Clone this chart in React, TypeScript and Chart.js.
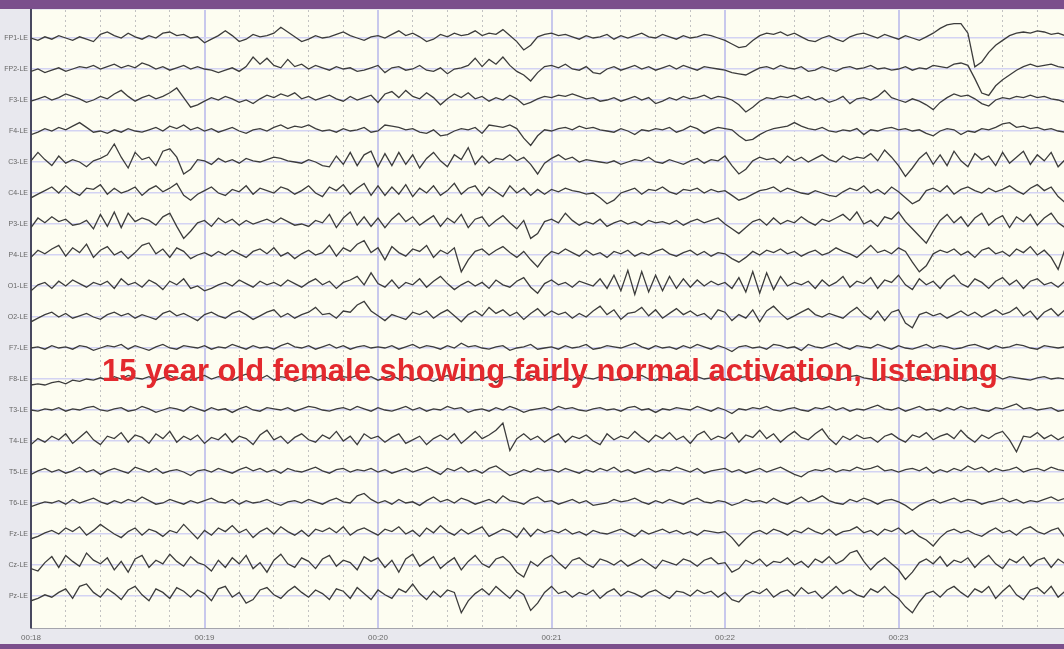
import React, { useEffect, useRef } from "react";
import { Chart, registerables } from "chart.js";

Chart.register(...registerables);

// ---------- data ----------
const CHANNEL_LABELS = [
  "FP1-LE", "FP2-LE", "F3-LE", "F4-LE", "C3-LE", "C4-LE", "P3-LE", "P4-LE", "O1-LE", "O2-LE",
  "F7-LE", "F8-LE", "T3-LE", "T4-LE", "T5-LE", "T6-LE", "Fz-LE", "Cz-LE", "Pz-LE",
];
const TIME_SECONDS = [18, 19, 20, 21, 22, 23];
const TIME_LABELS = ["00:18", "00:19", "00:20", "00:21", "00:22", "00:23"];
const START_SECOND = 18;
const SAMPLE_STEP = 0.04; // seconds between samples
const ANNOTATION = "15 year old female showing fairly normal activation, listening";

const FP1 = [
  0,-2,1,-1,2, 0,-2,1,-1,-3, 3,5,2,0,4, 1,-1,2,0,4, 5,2,3,0,1,
  -4,-1,2,6,2, -3,-1,3,1,2, 4,9,5,1,-3, -1,2,0,1,3, 5,2,0,-2,1,
  2,0,3,6,2, 4,1,-3,-1,3, 1,4,2,3,6, 2,4,3,7,2, -3,-10,-6,1,3,
  4,2,3,1,-1, 2,0,1,3,-1, 2,0,2,4,1, 0,3,1,-1,2, 0,1,3,2,0,
  -2,-5,-8,-7,-2, 2,4,3,5,2, 4,1,-2,-3,0, 2,-1,-3,1,3, 4,2,0,3,1,
  -1,2,0,-2,1, 4,8,11,12,12, 4,-24,-20,-12,-6, -2,2,4,5,4, 6,5,3,4,2,
];
const FP2 = [
  -2,0,-3,-1,1, -2,0,2,1,3, 0,2,4,1,3, 1,5,3,0,2, -1,1,3,0,2,
  0,-1,-3,-1,1, -2,2,10,4,9, 3,1,8,2,4, 0,3,1,-1,2, 0,1,-2,-1,1,
  3,-3,1,2,-1, 0,3,-1,-2,1, -4,0,1,3,9, 2,8,4,10,3, -2,-5,-10,-3,2,
  3,1,4,0,-1, 2,-3,-4,0,2, -1,1,3,0,2, -1,1,3,0,3, 1,-1,2,1,0,
  -1,-3,-4,-5,-2, 1,2,0,3,1, 0,2,-2,-1,2, 0,-2,1,2,0, 1,3,0,1,-1,
  0,2,-1,1,0, 3,2,1,4,5, 3,-8,-20,-22,-14, -9,-5,-1,2,4, 2,3,4,2,1,
];
const F3 = [
  -1,1,3,0,2, 5,3,1,-2,0, 3,1,5,8,3, -1,2,4,1,3, 6,10,2,-6,-4,
  -1,2,0,3,1, -2,0,-3,1,4, 2,5,3,6,1, 3,0,2,4,1, -1,3,0,2,4,
  -2,5,7,2,8, 3,1,6,2,-4, 1,5,2,6,1, 3,-1,2,0,4, 1,-4,-2,1,3,
  2,4,3,5,3, 1,2,-1,0,2, -1,1,3,0,2, -3,-1,2,0,3, 1,2,4,1,3,
  2,0,-4,-10,-6, -1,2,1,3,2, 4,1,3,0,2, -2,0,3,-3,1, 2,0,3,8,2,
  0,-2,1,-1,-4, -8,-2,2,5,3, 4,1,-3,-5,0, 2,1,3,2,4, 2,3,1,0,-2,
];
const F4 = [
  -3,-1,2,0,3, 1,4,7,3,-1, 0,-2,1,-1,2, 0,-1,1,3,0, 4,2,5,1,3,
  0,2,-1,1,3, 0,-2,1,2,0, 3,5,2,4,3, 5,2,0,1,-1, 2,0,1,3,-1,
  0,5,4,3,1, 2,-1,-2,1,-4, -3,0,2,1,3, -2,5,4,3,5, 2,-6,-12,-4,1,
  0,2,3,1,4, 2,3,1,0,-1, 2,0,-3,1,0, 2,1,3,-1,1, 4,2,-2,1,3,
  2,1,-4,-8,-7, -3,0,2,3,4, 7,4,2,1,3, 0,-1,1,0,2, -3,1,0,2,3,
  1,2,0,1,-2, -4,0,2,1,-3, 0,-1,2,1,3, 6,7,3,4,2, 3,1,2,0,-1,
];
const C3 = [
  1,8,2,-3,5, -1,2,0,-4,1, 3,6,15,4,-5, 8,2,4,-3,9, 11,4,-10,-6,2,
  1,-2,3,0,2, -1,3,1,0,2, 4,3,1,0,-1, 2,0,-3,-4,5, -2,8,-3,6,9,
  -4,7,-3,8,-2, 6,-5,3,8,1, -4,6,2,12,-2, 5,-1,3,2,6, 1,4,-2,-10,-1,
  3,6,2,4,0, 2,1,0,-1,1, -2,0,2,1,4, 0,-1,2,0,-2, 1,3,-1,2,1,
  5,-3,-10,-6,1, 4,2,3,-1,5, 1,4,0,3,6, 2,0,5,2,4, 3,7,1,10,4,
  -3,-12,-5,3,8, -2,6,-3,9,1, -4,7,2,5,-3, 8,-1,4,9,-2, 6,1,8,-4,2,
];
const C4 = [
  -4,-1,2,5,0, 6,1,-2,4,3, 7,-1,4,0,2, 5,-2,3,6,1, 4,8,-2,-6,-1,
  2,5,0,-2,3, 1,6,-1,4,2, 0,5,3,-1,2, 6,0,-3,5,2, 7,-1,4,8,-2,
  6,-2,5,-1,7, -3,4,0,6,-2, 2,8,-1,4,6, -2,5,1,-3,6, 0,4,-2,3,-1,
  3,1,4,2,1, -1,0,-4,-9,-6, 0,2,4,-1,3, 2,5,1,-1,3, 2,4,0,3,1,
  2,-2,-6,-4,-1, 2,3,5,1,4, 2,0,-1,2,0, -2,-3,1,4,2, 6,0,3,-1,5,
  1,-4,-9,-6,2, 4,1,6,-1,3, 5,2,0,4,1, 3,6,2,-1,4, 7,2,5,-3,-8,
];
const P3 = [
  -3,5,1,6,2, 4,-1,0,3,-4, 8,-2,10,-3,9, 2,5,3,-1,6, 9,-2,-12,-6,1,
  3,-2,5,1,4, -1,3,0,2,4, 1,5,2,-1,0, -2,3,1,8,-3, 5,10,-1,6,-2,
  5,-3,4,9,2, 6,-1,3,7,-2, 5,1,8,-3,4, 6,-2,3,7,1, -4,3,-12,-8,2,
  4,1,9,3,-1, 2,0,4,-2,1, 3,0,2,-1,3, 1,2,0,3,-1, 2,4,1,3,5,
  0,-4,-8,-3,2, 4,-1,5,0,3, 1,6,2,-1,4, 2,5,8,3,10, 0,3,-2,6,4,
  10,2,-4,-10,-16, -6,3,8,1,6, -2,5,9,-1,4, 7,-3,6,2,8, -1,5,9,1,-3,
];
const P4 = [
  -2,4,1,5,8, -1,6,2,9,-2, 4,7,0,3,-3, 2,8,10,1,5, -2,6,3,-3,0,
  2,-1,3,0,4, 1,-2,3,5,1, 6,-1,2,-3,1, 4,0,2,8,-1, 6,3,9,12,2,
  6,-4,7,2,-1, 5,3,8,-2,4, 1,6,-14,-4,3, 5,0,4,7,2, -2,3,-4,-10,-2,
  3,1,5,2,-1, 4,0,2,-2,3, 1,4,-1,2,0, 3,5,1,-1,2, 4,0,3,-1,2,
  1,-3,-6,-2,3, 0,4,2,5,1, 3,-1,2,4,0, 2,6,3,1,-2, 3,8,2,4,1,
  6,3,-6,-14,-9, 1,4,2,5,0, 3,-2,4,6,1, 3,-1,5,2,7, 0,4,-2,-12,5,
];
const O1 = [
  -4,1,3,-2,4, 0,5,2,-1,3, 1,4,-2,6,1, 3,-1,5,2,-3, 4,1,6,-2,0,
  -4,-2,1,3,0, 5,2,-1,4,1, 3,0,5,2,-1, 3,6,1,4,-2, 3,5,8,1,11,
  2,-1,5,-2,3, 1,6,-1,4,8, 2,-3,1,4,0, 3,-2,5,1,-1, 4,7,-1,-6,2,
  5,1,3,-1,4, 2,0,6,-2,9, -4,13,-7,12,-5, 9,-4,8,-2,6, -1,5,0,4,1,
  3,-2,7,-5,12, -6,11,-3,8,0, 3,1,4,-2,5, 0,3,8,-1,4, 2,7,-2,5,3,
  9,1,-3,6,1, 4,-2,5,9,2, -1,6,3,-2,4, 7,1,5,-2,4, 6,1,3,-1,4,
];
const O2 = [
  -4,-1,2,4,0, 3,-1,1,3,0, -2,2,4,1,3, -1,2,0,-2,3, 5,1,3,0,-3,
  2,4,1,-1,3, 5,2,-2,1,4, 6,0,3,-1,2, 4,8,2,3,-1, 5,4,10,13,5,
  1,-3,2,0,-2, 4,2,5,-1,3, 6,1,-4,2,5, 1,8,3,6,1, 4,-2,3,7,1,
  5,2,4,-1,3, 0,5,9,2,6, -2,3,4,8,1, 6,-1,3,7,2, 5,1,3,-2,6,
  4,-3,2,-1,6, -4,5,9,3,-2, 1,4,7,2,0, 3,1,-1,4,8, 2,-2,5,-3,4,
  6,-5,-9,2,4, 1,3,-1,2,5, 1,4,0,3,6, 2,4,8,1,5, -2,4,7,1,6,
];
const F7 = [
  0,1,-1,2,0, 1,-1,2,1,-2, 0,2,1,3,-1, 2,0,-2,1,3, 0,-1,2,1,0,
  2,-1,1,0,3, 1,-1,2,0,1, -1,2,4,1,0, 2,-1,1,3,0, 2,-1,1,2,0,
  1,0,2,-1,1, 3,0,2,1,-1, 2,0,4,1,2, 0,-1,1,2,-2, 0,1,3,-1,0,
  1,-1,2,0,1, 3,-1,0,2,1, 0,2,4,1,-1, 2,0,1,-1,2, 0,3,1,-1,2,
  0,-3,1,2,0, 1,-1,3,2,0, 1,-2,3,1,0, 2,4,1,-1,2, 1,0,3,1,-1,
  2,0,-1,1,3, 0,2,1,-1,0, 2,3,1,-1,2, 0,1,3,2,0, -1,2,1,0,1,
];
const F8 = [
  -5,-4,-5,-3,-2, -4,-1,-2,0,-1, 1,-1,2,0,3, 1,0,2,-1,1, 3,0,2,-1,1,
  3,0,2,1,-1, 2,4,1,0,3, -1,2,1,-2,0, 2,1,3,0,-1, 2,1,3,0,2,
  -1,1,3,0,2, -1,1,0,-2,1, 3,0,2,1,-1, 0,2,-3,1,2, 0,-1,3,1,0,
  2,0,1,-1,3, 1,0,2,1,-1, 0,2,1,3,0, -1,2,1,0,1, -1,2,0,1,2,
  0,-1,1,2,0, 3,1,-1,2,0, 1,-2,1,0,2, 1,-1,0,2,3, 1,0,-1,2,1,
  0,-2,1,0,2, -1,1,3,0,1, -1,2,0,1,3, 0,2,1,0,-1, 1,2,0,1,0,
];
const T3 = [
  0,-1,1,0,2, -1,1,0,2,3, 0,-1,1,2,-1, 0,3,1,-2,0, 2,1,-1,3,1,
  -1,2,0,1,-2, 1,3,0,-1,2, 1,0,2,-1,1, 3,2,0,-1,1, 2,0,3,1,-1,
  2,0,-1,1,3, 0,2,-1,1,0, 3,1,2,-2,0, 1,-1,2,0,3, 1,-2,0,1,2,
  0,3,1,2,0, -1,1,2,0,1, -1,2,3,0,1, -2,1,0,2,1, 0,3,1,-1,2,
  0,-3,1,0,2, 1,3,0,-1,1, 2,0,-1,2,1, 3,0,2,-1,1, 0,2,4,1,0,
  2,-1,1,3,0, 1,-1,2,0,3, 1,2,0,-1,2, 1,3,5,1,2, 0,1,2,-1,0,
];
const T4 = [
  -3,2,-1,4,1, 6,-2,3,8,1, -3,4,2,7,-1, 5,3,-2,6,2, 8,-1,4,1,5,
  -2,3,1,6,-1, 4,2,-3,5,9, 1,4,-2,3,6, 1,-1,5,2,8, 0,4,-3,6,2,
  4,-1,3,6,-2, 1,4,-3,2,5, 1,6,-2,3,8, 2,5,9,15,-8, 2,6,1,4,-1,
  3,6,-1,4,2, 5,0,-3,6,1, 4,2,8,3,-1, 5,2,7,1,4, -2,5,8,1,4,
  2,7,-1,5,3, 9,2,6,-1,4, 8,3,1,6,10, 2,-3,4,1,5, 2,3,-1,4,6,
  2,-1,5,3,7, 1,4,6,2,9, 3,-1,5,2,6, 8,1,-9,4,3, 7,2,5,1,4,
];
const T5 = [
  -2,1,3,0,2, -1,1,4,0,2, -2,1,3,1,-1, 4,2,0,3,-1, 1,2,0,-3,1,
  2,0,3,1,-1, 2,4,1,3,0, 2,-1,3,1,0, 2,4,1,-1,2, 3,0,2,1,3,
  0,2,-1,1,3, 0,2,4,1,-2, 3,1,4,0,2, -1,3,5,1,-3, -1,2,0,3,1,
  2,0,3,1,-1, 2,0,3,1,4, 0,2,-1,1,3, 0,2,1,4,2, 0,3,-1,1,2,
  3,0,2,-1,1, 3,0,2,4,1, -2,-4,0,2,1, 3,0,2,1,4, 2,3,5,1,2,
  0,2,3,1,4, -1,2,0,3,1, 5,2,4,0,3, 1,2,4,0,2, 3,1,4,2,1,
];
const T6 = [
  -3,-1,1,0,2, -1,3,0,2,4, 1,-1,2,0,3, 1,5,2,-1,0, 3,1,-1,2,0,
  2,4,1,0,3, -1,2,0,1,3, 0,-2,1,2,0, 3,1,-1,2,4, 1,0,6,8,3,
  0,2,-1,3,0, 1,-2,2,5,1, 3,0,4,2,-1, 1,3,0,6,2, 1,-1,3,5,1,
  2,-1,1,3,0, 2,-2,-1,0,3, 1,2,4,1,-1, 2,0,3,1,-1, 2,4,1,0,2,
  1,-2,0,3,1, 2,0,4,1,-1, 2,5,1,3,6, 2,0,-1,3,1, 4,2,-1,2,3,
  1,-2,-6,-2,1, 3,0,2,4,1, 3,2,-1,1,2, 4,1,3,0,2, 1,3,5,2,4,
];
const FZ = [
  -4,-2,1,3,0, 5,2,6,-1,3, 8,4,0,-3,2, 5,-1,4,2,-2, 3,1,8,2,-4,
  3,-1,5,2,7, 1,4,-3,2,5, 0,6,2,-1,3, -2,4,2,5,1, 6,-1,3,5,2,
  -1,4,2,6,0, 3,-2,5,1,7, 2,-1,4,0,3, 6,-2,1,4,2, -3,5,-2,4,1,
  3,1,4,0,2, -1,3,1,0,2, 4,1,-2,3,0, 2,4,1,3,0, 2,-1,3,2,1,
  2,-3,-10,-4,1, 3,0,4,2,-1, 3,1,5,2,0, 4,-1,2,3,6, 1,3,-1,4,2,
  5,0,3,-2,-5, -10,-3,2,4,1, 3,0,-2,2,5, 1,3,-1,4,6, 2,0,3,5,-3,
];
const CZ = [
  -3,-5,2,7,-2, 8,3,-1,10,4, 1,6,-4,3,-6, 5,8,-2,4,1, 9,3,-1,7,2,
  0,-5,4,-2,6, 1,8,-3,2,-6, 4,9,1,-2,6, 3,-3,5,8,-1, 4,2,-4,7,3,
  6,-2,4,-6,5, 9,-1,3,7,-3, 2,6,-4,3,8, 1,-2,5,7,2, -6,-10,3,-1,5,
  8,2,-3,4,6, 1,-2,5,3,0, 4,-1,2,5,1, -3,4,2,0,5, 3,-1,4,6,1,
  2,-6,-3,4,1, 5,-1,3,2,6, 0,3,-2,5,2, 7,1,4,10,12, 3,-4,2,6,1,
  -4,-12,-6,2,5, 1,7,-1,4,2, 6,-2,4,8,1, -3,5,2,7,-1, 4,6,-2,5,1,
];
const PZ = [
  -4,-2,1,-1,3, 6,-2,8,10,3, -1,6,2,-3,5, 8,1,-4,6,3, -2,7,4,-1,5,
  2,-4,6,8,-1, 3,-6,-3,5,7, 1,-2,4,8,3, -1,5,2,-3,6, 4,-2,7,2,-3,
  5,1,-2,6,3, 10,2,-3,4,-1, 5,3,-14,-4,2, 6,1,8,3,-2, 5,1,-12,-6,3,
  8,2,4,-1,3, 1,5,-2,3,6, 0,4,2,-1,3, 5,1,-2,4,3, 0,5,2,4,-1,
  3,-3,-5,1,4, 2,6,-1,3,5, 0,7,2,4,-2, 3,8,2,5,1, -1,6,3,8,2,
  -2,-9,-14,-5,2, 4,-1,5,8,3, -1,6,3,8,-2, 4,9,1,-3,5, 7,2,8,-1,4,
];

const SERIES = [FP1, FP2, F3, F4, C3, C4, P3, P4, O1, O2, F7, F8, T3, T4, T5, T6, FZ, CZ, PZ];

// ---------- layout / style ----------
const W = 1064;
const H = 649;
const TOP_BAR = 10;
const BOTTOM_BAR = 5;
const XAXIS_H = 16;
const YAXIS_W = 31;
const PX_PER_SEC = 173.5;
const PLOT_H = H - TOP_BAR - BOTTOM_BAR - XAXIS_H; // 618 units = px
const FIRST_BASE = 28;
const SPACING = 31;
const GAIN = 1.2;
const X_MAX = START_SECOND + (W - YAXIS_W) / PX_PER_SEC;

const isWhole = (v: number | undefined) =>
  v !== undefined && Math.abs(v - Math.round(v)) < 1e-6;

const bgPlugin = {
  id: "eegBackground",
  beforeDraw(chart: any) {
    const { ctx, chartArea: a, width, height } = chart;
    ctx.save();
    ctx.fillStyle = "#e8e8ee";
    ctx.fillRect(0, 0, width, height);
    ctx.fillStyle = "#fdfdf1";
    ctx.fillRect(a.left, a.top, a.right - a.left, a.bottom - a.top);
    ctx.fillStyle = "#7b4f8c";
    ctx.fillRect(0, 0, width, TOP_BAR - 1);
    ctx.fillRect(0, height - BOTTOM_BAR, width, BOTTOM_BAR);
    ctx.restore();
  },
};

const textPlugin = {
  id: "eegAnnotation",
  afterDatasetsDraw(chart: any) {
    const { ctx } = chart;
    ctx.save();
    ctx.font = 'bold 31px "Liberation Sans", Arial, sans-serif';
    ctx.fillStyle = "#e3292e";
    ctx.textAlign = "center";
    ctx.textBaseline = "alphabetic";
    ctx.fillText(ANNOTATION, 550, 381);
    ctx.restore();
  },
};

export default function App() {
  const ref = useRef<HTMLCanvasElement | null>(null);

  useEffect(() => {
    if (!ref.current) return;
    const datasets = SERIES.map((vals, ci) => ({
      label: CHANNEL_LABELS[ci],
      data: vals.map((v, i) => ({
        x: START_SECOND + i * SAMPLE_STEP,
        y: FIRST_BASE + ci * SPACING - v * GAIN,
      })),
      borderColor: "#3c3c3c",
      borderWidth: 1.3,
      pointRadius: 0,
      tension: 0,
      fill: false,
    }));

    const chart = new Chart(ref.current, {
      type: "line",
      data: { datasets },
      plugins: [bgPlugin, textPlugin],
      options: {
        responsive: false,
        maintainAspectRatio: false,
        animation: false,
        events: [],
        layout: { padding: { top: TOP_BAR, bottom: BOTTOM_BAR, left: 0, right: 0 } },
        plugins: {
          legend: { display: false },
          tooltip: { enabled: false },
          title: { display: false },
        },
        scales: {
          x: {
            type: "linear",
            min: START_SECOND,
            max: X_MAX,
            afterBuildTicks: (scale: any) => {
              const ticks = [];
              for (let k = 0; k < 30; k++) {
                ticks.push({ value: +(START_SECOND + k * 0.2).toFixed(4) });
              }
              scale.ticks = ticks;
            },
            afterFit: (scale: any) => {
              scale.height = XAXIS_H;
            },
            ticks: {
              autoSkip: false,
              maxRotation: 0,
              minRotation: 0,
              padding: 5,
              color: "#6a6a6a",
              font: { family: '"Liberation Sans", Arial, sans-serif', size: 8 },
              callback: (value: any) => {
                const v = Number(value);
                if (!isWhole(v)) return "";
                const idx = TIME_SECONDS.indexOf(Math.round(v));
                return idx >= 0 ? TIME_LABELS[idx] : "";
              },
            },
            grid: {
              drawTicks: false,
              color: (c: any) => (isWhole(c.tick?.value) ? "#c8c8ec" : "#c2c2c2"),
              lineWidth: (c: any) => (isWhole(c.tick?.value) ? 2 : 1),
            },
            border: {
              display: true,
              color: "#a4a4ac",
              width: 1,
              dash: (c: any) => (c.tick && !isWhole(c.tick.value) ? [2, 3] : []),
            },
          },
          y: {
            type: "linear",
            min: 0,
            max: PLOT_H,
            reverse: true,
            afterBuildTicks: (scale: any) => {
              scale.ticks = CHANNEL_LABELS.map((_, i) => ({ value: FIRST_BASE + i * SPACING }));
            },
            afterFit: (scale: any) => {
              scale.width = YAXIS_W;
            },
            ticks: {
              autoSkip: false,
              padding: 3,
              color: "#666666",
              font: { family: '"Liberation Sans", Arial, sans-serif', size: 7 },
              callback: (_v: any, i: number) => CHANNEL_LABELS[i] ?? "",
            },
            grid: {
              drawTicks: false,
              color: "#d3d3f3",
              lineWidth: 1.5,
            },
            border: { display: true, color: "#48485f", width: 2 },
          },
        },
      },
    } as any);

    return () => chart.destroy();
  }, []);

  return (
    <div style={{ position: "fixed", left: 0, top: 0, width: W, height: H }}>
      <canvas ref={ref} width={W} height={H} style={{ display: "block", width: W, height: H }} />
    </div>
  );
}
